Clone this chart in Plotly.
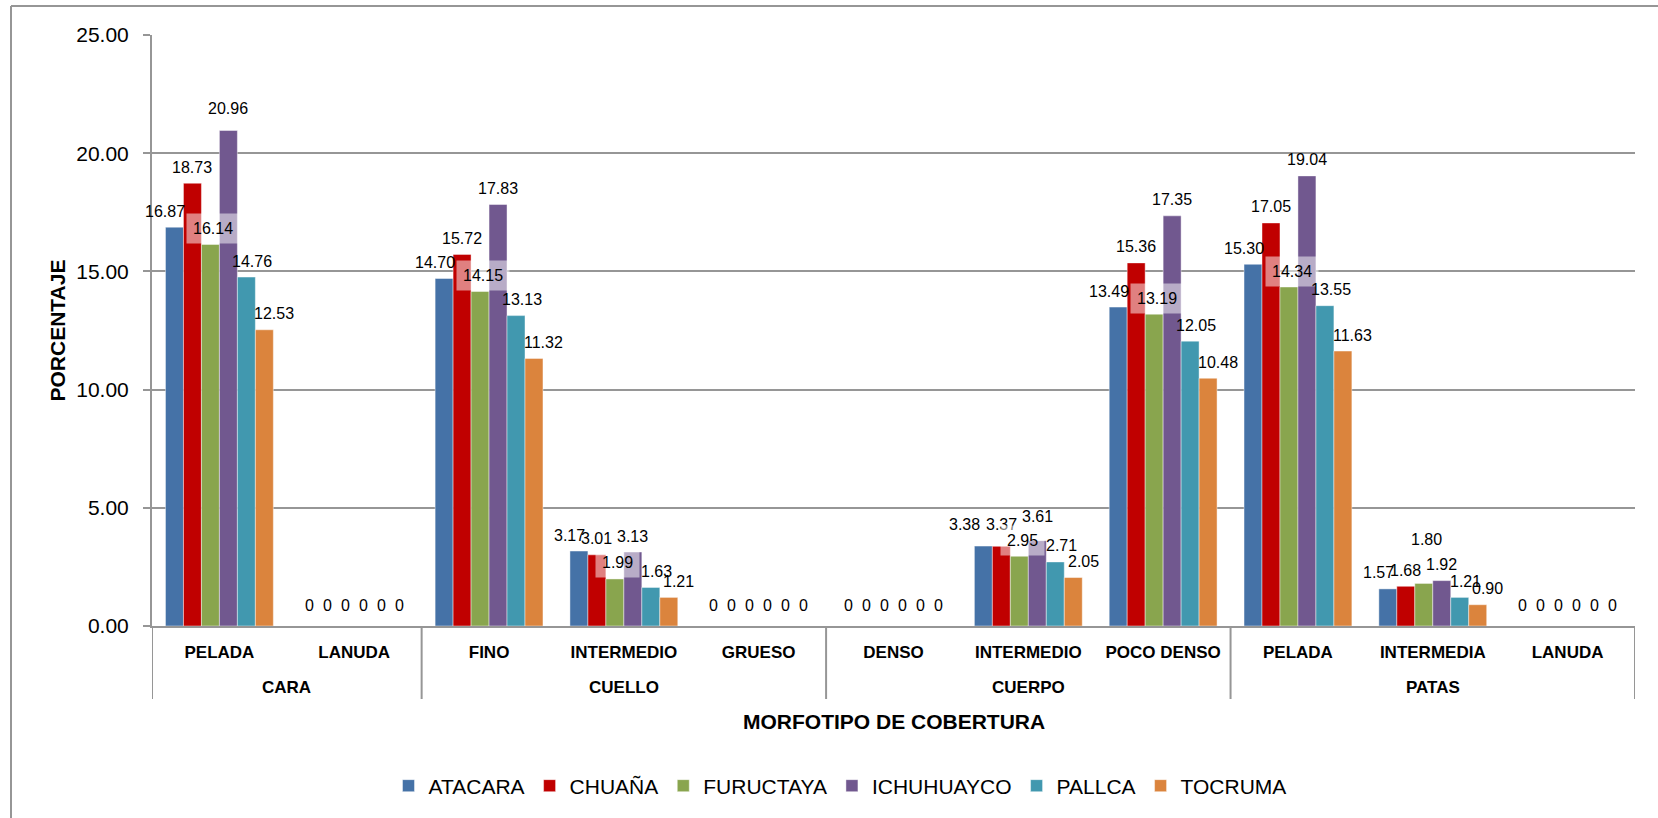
import plotly.graph_objects as go

# data
groups = ["CARA", "CUELLO", "CUERPO", "PATAS"]
group_sizes = [2, 3, 3, 3]
categories = ["PELADA", "LANUDA",
              "FINO", "INTERMEDIO", "GRUESO",
              "DENSO", "INTERMEDIO", "POCO DENSO",
              "PELADA", "INTERMEDIA", "LANUDA"]

atacara = [16.87, 0, 14.70, 3.17, 0, 0, 3.38, 13.49, 15.30, 1.57, 0]
chuana = [18.73, 0, 15.72, 3.01, 0, 0, 3.37, 15.36, 17.05, 1.68, 0]
fuructaya = [16.14, 0, 14.15, 1.99, 0, 0, 2.95, 13.19, 14.34, 1.80, 0]
ichuhuayco = [20.96, 0, 17.83, 3.13, 0, 0, 3.61, 17.35, 19.04, 1.92, 0]
pallca = [14.76, 0, 13.13, 1.63, 0, 0, 2.71, 12.05, 13.55, 1.21, 0]
tocruma = [12.53, 0, 11.32, 1.21, 0, 0, 2.05, 10.48, 11.63, 0.90, 0]

series = [
    ("ATACARA", atacara, "#4572A7"),
    ("CHUAÑA", chuana, "#C00000"),
    ("FURUCTAYA", fuructaya, "#89A54E"),
    ("ICHUHUAYCO", ichuhuayco, "#71588F"),
    ("PALLCA", pallca, "#4198AF"),
    ("TOCRUMA", tocruma, "#DB843D"),
]

# label nudges in px (Excel pushes the outer labels sideways)
label_dx = [-9, 0, 3, 0, 6, 10]
label_dy = 16
# a few labels were dragged by hand in the original
label_lift = {("FURUCTAYA", 9): 28, ("ICHUHUAYCO", 0): 6, ("ICHUHUAYCO", 6): 8,
              ("ATACARA", 6): 6, ("CHUAÑA", 6): 6}
label_side = {("ATACARA", 6): -10}

# no Arial Narrow here, so Liberation Sans sized to match text widths
FONT = "Liberation Sans, Arial, sans-serif"
GRID = "#969696"

W, H = 1658, 818
L, R, T, B = 152, 23, 35, 192
pw, ph = W - L - R, H - T - B


def px_x(x):
    return (x - L) / pw


def px_y(y):
    return (H - B - y) / ph


BARGAP = 0.2
n = len(series)
bw = (1 - BARGAP) / n
xs = list(range(len(categories)))

fig = go.Figure()
annotations = []
for s, (name, vals, col) in enumerate(series):
    fig.add_trace(go.Bar(
        x=xs, y=vals, name=name,
        marker=dict(color=col, line=dict(color="rgba(255,255,255,0.55)", width=0.8)),
    ))
    off = -(1 - BARGAP) / 2 + (s + 0.5) * bw
    for i, v in enumerate(vals):
        a = dict(
            x=i + off, y=v, xref="x", yref="y",
            text="0" if v == 0 else f"{v:.2f}",
            showarrow=False, yanchor="middle", xanchor="center",
            yshift=label_dy + (5 if v == 0 else 0) + label_lift.get((name, i), 0),
            xshift=0 if v == 0 else label_dx[s] + label_side.get((name, i), 0),
            font=dict(family=FONT, size=16, color="#000"),
        )
        if name == "FURUCTAYA" and v > 0:
            a.update(bgcolor="rgba(255,255,255,0.5)", borderpad=6)
        annotations.append(a)

# group labels and dividers under the category row
shapes = []
start = 0
bounds = [-0.5]
for g, size in zip(groups, group_sizes):
    annotations.append(dict(
        x=start + (size - 1) / 2, y=px_y(687), xref="x", yref="paper",
        text=g, showarrow=False, yanchor="middle",
        font=dict(family=FONT, size=17, color="#000", weight="bold"),
    ))
    start += size
    bounds.append(start - 0.5)
for b in bounds:
    shapes.append(dict(type="line", xref="x", yref="paper", x0=b, x1=b,
                       y0=0, y1=px_y(699), line=dict(color=GRID, width=2)))

# axis titles
annotations.append(dict(
    x=0.5, y=px_y(721), xref="paper", yref="paper", text="MORFOTIPO DE COBERTURA",
    showarrow=False, yanchor="middle",
    font=dict(family=FONT, size=21, color="#000", weight="bold"),
))
annotations.append(dict(
    x=px_x(57), y=0.5, xref="paper", yref="paper", text="PORCENTAJE",
    showarrow=False, textangle=-90, xanchor="center", yanchor="middle",
    font=dict(family=FONT, size=21, color="#000", weight="bold"),
))

# chart frame (left and top edges visible)
shapes.append(dict(type="line", xref="paper", yref="paper", x0=px_x(11), x1=px_x(11),
                   y0=px_y(6), y1=px_y(830), line=dict(color=GRID, width=2)))
shapes.append(dict(type="line", xref="paper", yref="paper", x0=px_x(11), x1=px_x(1670),
                   y0=px_y(6), y1=px_y(6), line=dict(color=GRID, width=2)))

fig.update_layout(
    width=W, height=H,
    margin=dict(l=L, r=R, t=T, b=B),
    paper_bgcolor="white", plot_bgcolor="white",
    barmode="group", bargap=BARGAP, bargroupgap=0,
    font=dict(family=FONT, color="#000"),
    showlegend=True,
    legend=dict(orientation="h", x=px_x(840), y=px_y(786), xanchor="center", yanchor="middle",
                font=dict(family=FONT, size=21, color="#000"), traceorder="normal"),
    annotations=annotations,
    shapes=shapes,
)
fig.update_xaxes(
    range=[-0.5, len(categories) - 0.5], tickvals=xs, ticktext=categories,
    showgrid=False, zeroline=False, showline=True, linecolor=GRID, linewidth=2,
    ticks="", ticklabelstandoff=10,
    tickfont=dict(family=FONT, size=17, color="#000", weight="bold"),
)
fig.update_yaxes(
    range=[0, 25], dtick=5, tickformat=".2f",
    showgrid=True, gridcolor=GRID, gridwidth=2, zeroline=False,
    showline=True, linecolor=GRID, linewidth=2,
    ticks="outside", ticklen=7, tickcolor=GRID, tickwidth=2, ticklabelstandoff=10,
    tickfont=dict(family=FONT, size=21, color="#000"),
)

# drop the page's default body margin so the figure sits at the window corner
fig.write_html("out.html", config={"displayModeBar": False},
               post_script="document.body.style.margin='0';")
